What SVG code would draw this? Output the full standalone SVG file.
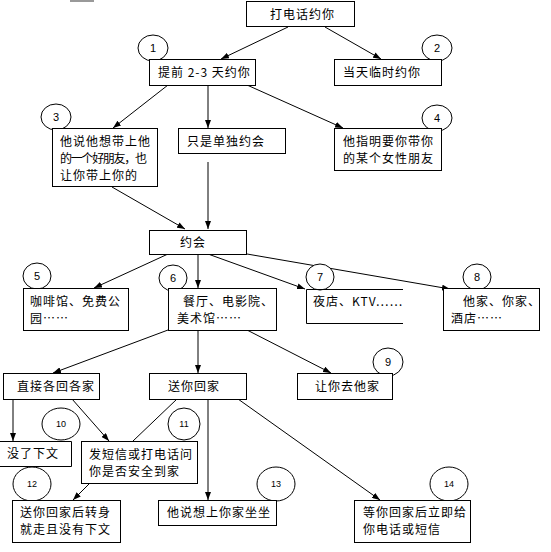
<svg xmlns="http://www.w3.org/2000/svg" width="551" height="552" viewBox="0 0 551 552">
<style>
.box{fill:#fff;stroke:#000;stroke-width:1}
.t{font-family:"Noto Sans CJK SC","Liberation Sans",sans-serif;font-size:12px;letter-spacing:1px;fill:#000}
.num{font-family:"Liberation Sans","DejaVu Sans",sans-serif;font-size:11px;fill:#000;text-anchor:middle}
.snum{font-family:"Liberation Sans","DejaVu Sans",sans-serif;font-size:9px;fill:#000;text-anchor:middle}
.c{fill:#fff;stroke:#000;stroke-width:1}
.ln{stroke:#000;stroke-width:1;fill:none}
.ar{marker-end:url(#ah)}
</style>
<defs>
<marker id="ah" markerUnits="userSpaceOnUse" markerWidth="8" markerHeight="6" refX="8" refY="3" orient="auto">
<path d="M0,0 L8,3 L0,6 z" fill="#000"/>
</marker>
</defs>
<rect width="551" height="552" fill="#fff"/>
<rect x="70" y="0" width="24" height="2" fill="#999"/>

<g id="connectors">
<line class="ln ar" x1="288" y1="27" x2="221" y2="59"/>
<line class="ln ar" x1="325" y1="27" x2="381" y2="59"/>
<line class="ln ar" x1="168" y1="85" x2="113" y2="128"/>
<line class="ln ar" x1="208" y1="85" x2="208" y2="128"/>
<line class="ln ar" x1="247" y1="85" x2="343" y2="128"/>
<line class="ln ar" x1="112" y1="187" x2="185" y2="229"/>
<line class="ln ar" x1="208" y1="162" x2="208" y2="229"/>
<line class="ln ar" x1="168" y1="254" x2="94" y2="288"/>
<line class="ln ar" x1="198" y1="254" x2="198" y2="288"/>
<line class="ln ar" x1="208" y1="254" x2="305" y2="289"/>
<line class="ln ar" x1="247" y1="254" x2="450" y2="289"/>
<line class="ln ar" x1="168" y1="330" x2="53" y2="373"/>
<line class="ln ar" x1="198" y1="330" x2="198" y2="373"/>
<line class="ln ar" x1="247" y1="330" x2="331" y2="373"/>
<line class="ln ar" x1="13" y1="399" x2="13" y2="441"/>
<line class="ln ar" x1="72" y1="399" x2="109" y2="441"/>
<line class="ln" x1="177" y1="399" x2="133" y2="441"/>
<line class="ln ar" x1="90" y1="483" x2="73" y2="500"/>
<line class="ln ar" x1="208" y1="399" x2="208" y2="500"/>
<line class="ln ar" x1="238" y1="399" x2="380" y2="500"/>
</g>

<g id="n0"><rect class="box" x="246.5" y="1.5" width="108" height="25"/><text class="t" x="270" y="19">打电话约你</text></g>

<g id="c1"><ellipse class="c" cx="153" cy="48" rx="15" ry="13"/><text class="num" x="153" y="52">1</text></g>
<g id="n1"><rect class="box" x="149.5" y="59.5" width="106" height="26"/><text class="t" x="158" y="77">提前 2-3 天约你</text></g>

<g id="c2"><ellipse class="c" cx="437" cy="48" rx="15" ry="13"/><text class="num" x="437" y="52">2</text></g>
<g id="n2"><rect class="box" x="334.5" y="59.5" width="107" height="26"/><text class="t" x="343" y="77">当天临时约你</text></g>

<g id="c3"><ellipse class="c" cx="56" cy="117" rx="15" ry="13"/><text class="num" x="56" y="121">3</text></g>
<g id="n3"><rect class="box" x="52.5" y="128.5" width="105" height="58"/>
<text class="t" x="60" y="146">他说他想带上他</text>
<text class="t" x="60" y="163" textLength="88" lengthAdjust="spacing">的一个好朋友，也</text>
<text class="t" x="60" y="180">让你带上你的</text></g>

<g id="n_alone"><rect class="box" x="178.5" y="128.5" width="107" height="25"/><text class="t" x="187" y="146">只是单独约会</text></g>

<g id="c4"><ellipse class="c" cx="437" cy="118" rx="15" ry="13"/><text class="num" x="437" y="122">4</text></g>
<g id="n4"><rect class="box" x="334.5" y="128.5" width="107" height="42"/>
<text class="t" x="343" y="146">他指明要你带你</text>
<text class="t" x="343" y="163">的某个女性朋友</text></g>

<g id="n_date"><rect class="box" x="149.5" y="230.5" width="97" height="24"/><text class="t" x="180" y="247">约会</text></g>

<g id="c5"><ellipse class="c" cx="37" cy="276" rx="14" ry="13"/><text class="num" x="37" y="280">5</text></g>
<g id="n5"><rect class="box" x="23.5" y="288.5" width="105" height="42"/>
<text class="t" x="30" y="306">咖啡馆、免费公</text>
<text class="t" x="30" y="323">园……</text></g>

<g id="c6"><ellipse class="c" cx="173" cy="278" rx="14" ry="13"/><text class="num" x="173" y="282">6</text></g>
<g id="n6"><rect class="box" x="168.5" y="288.5" width="108" height="42"/>
<text class="t" x="183" y="306">餐厅、电影院、</text>
<text class="t" x="177" y="323">美术馆……</text></g>

<g id="c7"><ellipse class="c" cx="320" cy="277" rx="14" ry="13"/><text class="num" x="320" y="281">7</text></g>
<g id="n7"><path class="ln" d="M403,289.5 H306.5 V323.5 H403"/>
<text class="t" x="313" y="306">夜店、KTV……</text></g>

<g id="c8"><ellipse class="c" cx="477" cy="277" rx="14" ry="13"/><text class="num" x="477" y="281">8</text></g>
<g id="n8"><rect class="box" x="443.5" y="288.5" width="96" height="42"/>
<text class="t" x="463" y="306">他家、你家、</text>
<text class="t" x="451" y="323">酒店……</text></g>

<g id="n_each"><rect class="box" x="3.5" y="373.5" width="96" height="26"/><text class="t" x="17" y="391">直接各回各家</text></g>
<g id="n_send"><rect class="box" x="149.5" y="373.5" width="97" height="26"/><text class="t" x="168" y="391">送你回家</text></g>

<g id="c9"><ellipse class="c" cx="388" cy="362" rx="15" ry="14"/><text class="num" x="388" y="366">9</text></g>
<g id="n9"><rect class="box" x="297.5" y="373.5" width="95" height="26"/><text class="t" x="315" y="391">让你去他家</text></g>

<g id="c10"><ellipse class="c" cx="61" cy="424" rx="19" ry="16"/><text class="snum" x="61" y="427">10</text></g>
<g id="n10"><path class="ln" d="M0,441.5 H71.5 V466.5 H0"/><text class="t" x="7" y="458">没了下文</text></g>

<g id="c11"><ellipse class="c" cx="184" cy="424" rx="16" ry="16"/><text class="snum" x="184" y="427">11</text></g>
<g id="n11"><rect class="box" x="81.5" y="441.5" width="116" height="42"/>
<text class="t" x="89" y="459">发短信或打电话问</text>
<text class="t" x="89" y="476">你是否安全到家</text></g>

<g id="c12"><ellipse class="c" cx="32" cy="484" rx="19" ry="17"/><text class="snum" x="32" y="487">12</text></g>
<g id="n12"><rect class="box" x="12.5" y="500.5" width="108" height="42"/>
<text class="t" x="20" y="517">送你回家后转身</text>
<text class="t" x="20" y="534">就走且没有下文</text></g>

<g id="c13"><ellipse class="c" cx="276" cy="484" rx="19" ry="17"/><text class="snum" x="276" y="487">13</text></g>
<g id="n13"><rect class="box" x="158.5" y="500.5" width="118" height="25"/><text class="t" x="167" y="517">他说想上你家坐坐</text></g>

<g id="c14"><ellipse class="c" cx="449" cy="484" rx="19" ry="17"/><text class="snum" x="449" y="487">14</text></g>
<g id="n14"><rect class="box" x="354.5" y="500.5" width="116" height="42"/>
<text class="t" x="363" y="517">等你回家后立即给</text>
<text class="t" x="363" y="534">你电话或短信</text></g>
</svg>
